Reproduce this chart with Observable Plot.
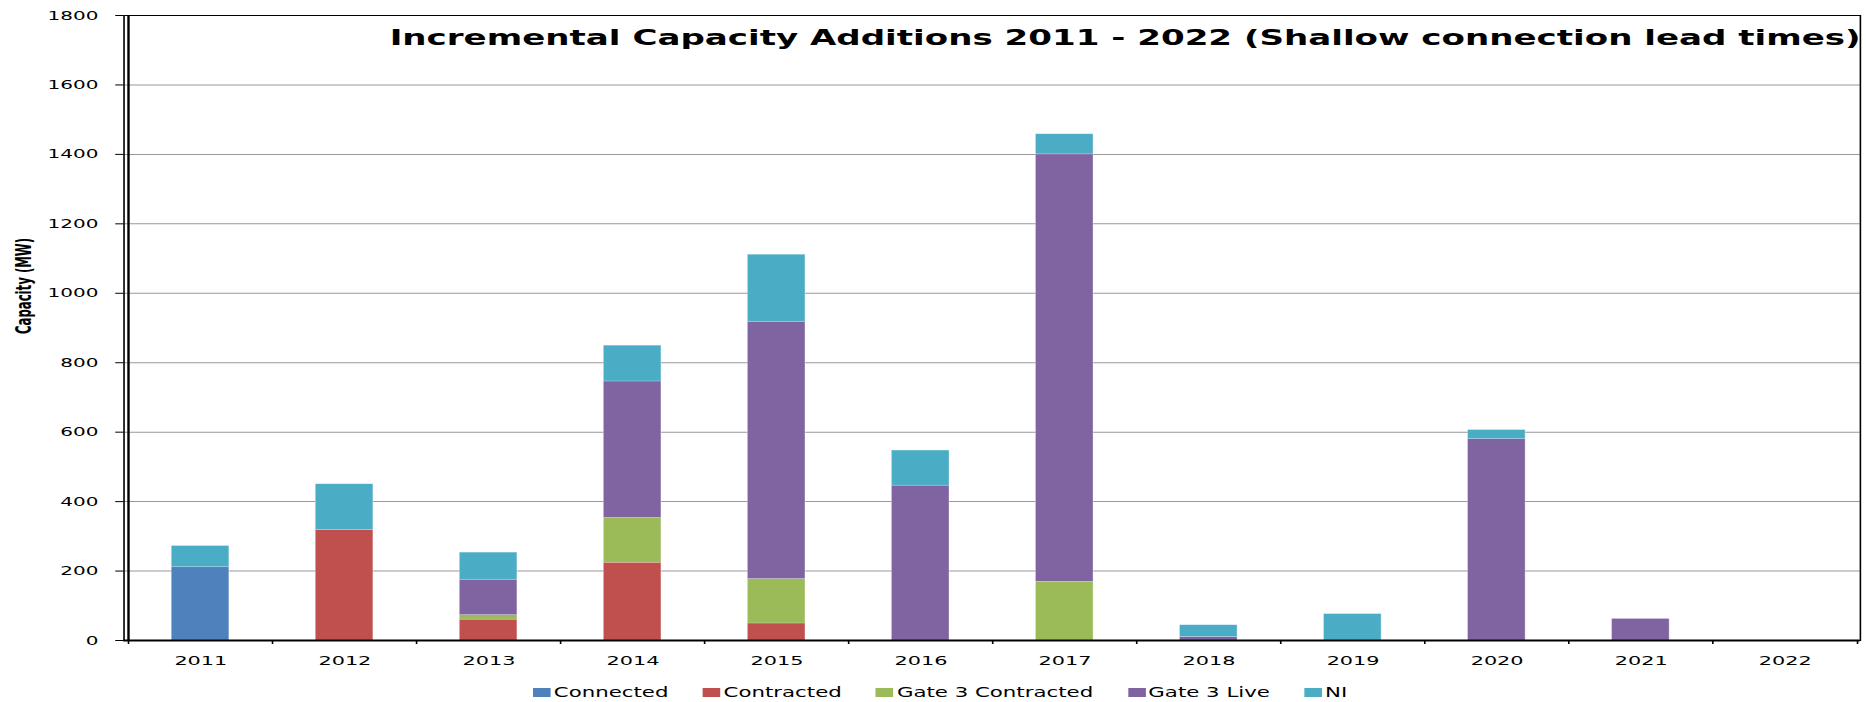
<!DOCTYPE html>
<html><head><meta charset="utf-8">
<script src="https://cdn.jsdelivr.net/npm/d3@7"></script>
<script src="https://cdn.jsdelivr.net/npm/@observablehq/plot@0.6"></script>
<style>
html,body{margin:0;padding:0;background:#fff;}
#wrap{position:relative;width:1866px;height:702px;overflow:hidden;background:#fff;}
#legend{position:absolute;left:533px;top:683px;transform:scaleX(1.6003);transform-origin:0 0;white-space:nowrap;}
div.lg-swatches{min-height:0 !important;height:18px;margin:0 !important;font-family:"DejaVu Sans",Verdana,sans-serif !important;font-size:13.3px !important;color:#000;}
div.lg-swatches-wrap .lg-swatch{margin-right:21.5px !important;}
div.lg-swatches .lg-swatch > svg{margin-right:2px !important;}
</style></head>
<body><div id="wrap"><div id="chart"></div><div id="legend"></div></div>
<script>
// ---- data ----
const years = ["2011","2012","2013","2014","2015","2016","2017","2018","2019","2020","2021","2022"];
const series = ["Connected","Contracted","Gate 3 Contracted","Gate 3 Live","NI"];
const colors = ["#4F81BD","#C0504D","#9BBB59","#8064A2","#4BACC6"];
const connected       = [211,   0,   0,   0,   0,   0,    0,  0,  0,   0,  0, 0];
const contracted      = [  0, 318,  60, 224,  49,   0,    0,  0,  0,   0,  0, 0];
const gate3Contracted = [  0,   0,  13, 129, 128,   0,  169,  0,  0,   0,  0, 0];
const gate3Live       = [  0,   0, 102, 393, 741, 446, 1231, 10,  0, 580, 62, 0];
const ni              = [ 61, 132,  78, 103, 193, 101,   58, 34, 76,  26,  0, 0];
const yTicks = [0,200,400,600,800,1000,1200,1400,1600,1800];
const title = "Incremental Capacity Additions 2011 - 2022 (Shallow connection lead times)";
const yLabel = "Capacity (MW)";

// ---- layout ----
const FULL_W = 1866, W = 1166, H = 676;
const ML = 77, MR = 4, MT = 15, MB = 36;
const step = (W - ML - MR) / years.length;

const valuesBySeries = [connected, contracted, gate3Contracted, gate3Live, ni];
const rows = [];
series.forEach((s, k) => years.forEach((y, i) => rows.push({year: y, series: s, value: valuesBySeries[k][i]})));

const chart = Plot.plot({
  width: W, height: H,
  marginLeft: ML, marginRight: MR, marginTop: MT, marginBottom: MB,
  style: {fontFamily: "'DejaVu Sans', Verdana, sans-serif", fontSize: "12.5px", color: "#000", background: "#fff"},
  x: {domain: years, paddingInner: 0.6, paddingOuter: 0.3, label: null},
  y: {domain: [0, 1800], ticks: yTicks, label: null},
  color: {domain: series, range: colors},
  marks: [
    Plot.gridY(yTicks, {stroke: "#999999", strokeOpacity: 1, strokeWidth: 1}),
    Plot.barY(rows, {x: "year", y: "value", fill: "series", stroke: "#ffffff", strokeOpacity: 0.35, strokeWidth: 0.6}),
    Plot.frame({stroke: "#000", strokeWidth: 1}),
    Plot.ruleY([0], {stroke: "#000", strokeWidth: 2}),
    Plot.ruleX([years[0]], {dx: -step / 2, stroke: "#000", strokeWidth: 1.5}),
    Plot.axisY({ticks: yTicks, tickSize: 5, tickPadding: 11, tickFormat: d => String(d), fontSize: 12.5, label: null}),
    Plot.axisX({tickSize: 0, tickPadding: 15, fontSize: 13, label: null}),
    Plot.axisX({tickSize: 4, text: null, dx: -step / 2, label: null}),
    Plot.axisX({ticks: [years[years.length - 1]], tickSize: 4, text: null, dx: step / 2, label: null}),
    Plot.text([title], {frameAnchor: "top-left", textAnchor: "start", lineAnchor: "middle", dx: 166, dy: 23, fontSize: 21.3, fontWeight: "bold", fill: "#000", clip: "frame"}),
    Plot.text([yLabel], {frameAnchor: "left", rotate: -90, dx: -62, dy: 6, fontFamily: "'Liberation Sans Narrow', 'DejaVu Sans Condensed', sans-serif", fontWeight: "bold", fontSize: 13, fill: "#000"})
  ]
});

chart.setAttribute("width", FULL_W);
chart.setAttribute("height", H);
chart.setAttribute("preserveAspectRatio", "none");
chart.style.width = FULL_W + "px";
chart.style.height = H + "px";
chart.style.maxWidth = "none";
chart.style.display = "block";
document.getElementById("chart").appendChild(chart);

const leg = chart.legend("color", {className: "lg", swatchWidth: 11, swatchHeight: 9});
document.getElementById("legend").appendChild(leg);
</script>
</body></html>
